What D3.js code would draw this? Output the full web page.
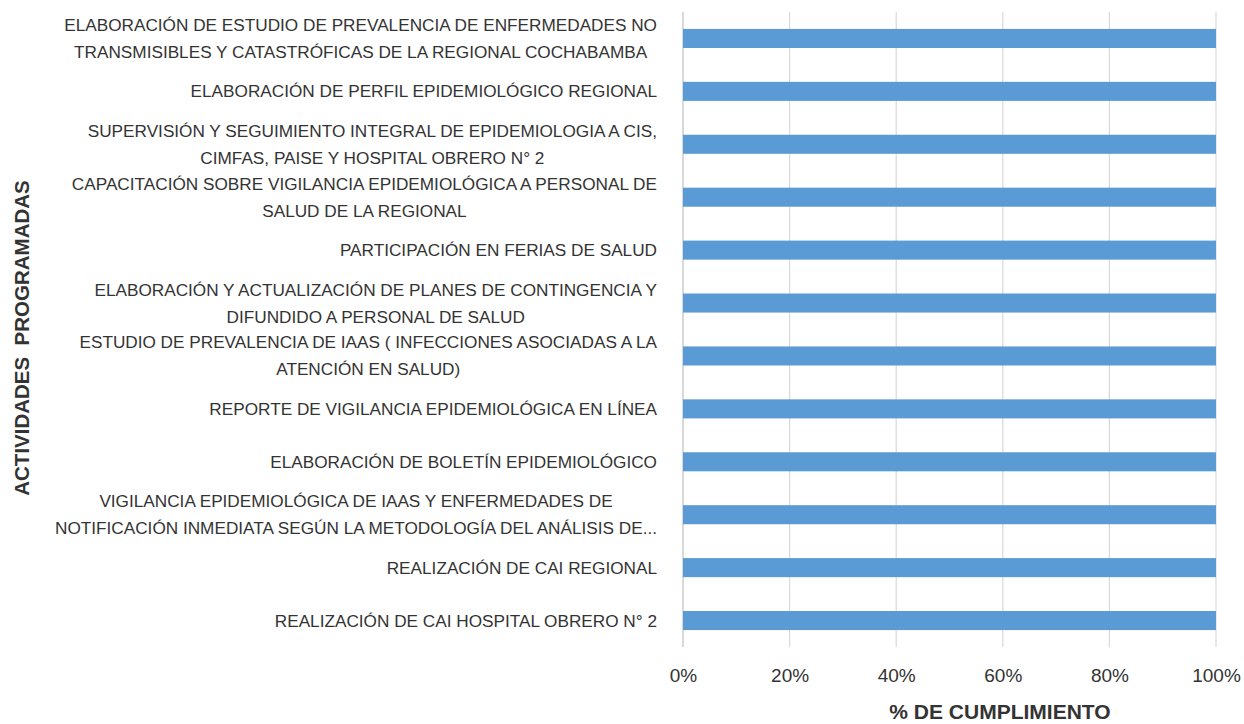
<!DOCTYPE html>
<html>
<head>
<meta charset="utf-8">
<script src="https://cdn.jsdelivr.net/npm/d3@7"></script>
<style>
  body { margin: 0; background: #fff; }
  text { font-family: "Liberation Sans", Arial, sans-serif; fill: #333; }
</style>
</head>
<body>
<svg id="chart"></svg>
<script>
// Activities, top to bottom (each entry = wrapped label lines)
const activities = [
  ["ELABORACIÓN DE ESTUDIO DE PREVALENCIA DE ENFERMEDADES NO", "TRANSMISIBLES Y CATASTRÓFICAS DE LA REGIONAL COCHABAMBA"],
  ["ELABORACIÓN DE PERFIL EPIDEMIOLÓGICO REGIONAL"],
  ["SUPERVISIÓN Y SEGUIMIENTO INTEGRAL DE EPIDEMIOLOGIA A CIS,", "CIMFAS, PAISE Y HOSPITAL OBRERO N° 2"],
  ["CAPACITACIÓN SOBRE VIGILANCIA EPIDEMIOLÓGICA A PERSONAL DE", "SALUD DE LA REGIONAL"],
  ["PARTICIPACIÓN EN FERIAS DE SALUD"],
  ["ELABORACIÓN Y ACTUALIZACIÓN DE PLANES DE CONTINGENCIA Y", "DIFUNDIDO A PERSONAL DE SALUD"],
  ["ESTUDIO DE PREVALENCIA DE IAAS ( INFECCIONES ASOCIADAS A LA", "ATENCIÓN EN SALUD)"],
  ["REPORTE DE VIGILANCIA EPIDEMIOLÓGICA EN LÍNEA"],
  ["ELABORACIÓN DE BOLETÍN EPIDEMIOLÓGICO"],
  ["VIGILANCIA EPIDEMIOLÓGICA DE IAAS Y ENFERMEDADES DE", "NOTIFICACIÓN INMEDIATA SEGÚN LA METODOLOGÍA DEL ANÁLISIS DE..."],
  ["REALIZACIÓN DE CAI REGIONAL"],
  ["REALIZACIÓN DE CAI HOSPITAL OBRERO N° 2"]
];

// % de cumplimiento
const cumplimiento = [1, 1, 1, 1, 1, 1, 1, 1, 1, 1, 1, 1];

const xTicks = [0, 0.2, 0.4, 0.6, 0.8, 1];

const data = activities.map((lines, i) => ({ id: i, lines: lines, value: cumplimiento[i] }));

const width = 1244;
const height = 724;
const margin = { top: 12, right: 28, bottom: 77, left: 683 };

const svg = d3.select("#chart")
  .attr("width", width)
  .attr("height", height);

const xScale = d3.scaleLinear()
  .domain([0, 1])
  .range([margin.left, width - margin.right]);

const yScale = d3.scaleBand()
  .domain(data.map(d => d.id))
  .range([margin.top, height - margin.bottom])
  .paddingInner(0.64)
  .paddingOuter(0.32);

// gridlines
svg.append("g")
  .selectAll("line")
  .data(xTicks)
  .enter()
  .append("line")
  .attr("x1", d => xScale(d))
  .attr("x2", d => xScale(d))
  .attr("y1", margin.top)
  .attr("y2", height - margin.bottom)
  .attr("stroke", d => d === 0 ? "#bfbfbf" : "#d9d9d9")
  .attr("stroke-width", 1.2);

// bars
svg.selectAll(".bar")
  .data(data)
  .enter()
  .append("rect")
  .attr("class", "bar")
  .attr("x", xScale(0))
  .attr("y", d => yScale(d.id))
  .attr("width", d => xScale(d.value) - xScale(0))
  .attr("height", yScale.bandwidth())
  .attr("fill", "#5b9bd5");

// x tick labels
const xAxis = svg.append("g")
  .attr("transform", `translate(0,${height - margin.bottom})`)
  .call(d3.axisBottom(xScale).tickValues(xTicks).tickFormat(d3.format(".0%")).tickSize(0).tickPadding(22));
xAxis.select(".domain").remove();
xAxis.selectAll("text")
  .style("font-size", "19px")
  .attr("fill", "#333");

// category labels: wrapped lines centered within a right-aligned block
const labelRight = margin.left - 26;
const lineHeight = 27;
const labels = svg.append("g");
data.forEach(d => {
  const g = labels.append("g");
  const cy = yScale(d.id) + yScale.bandwidth() / 2;
  const n = d.lines.length;
  const texts = g.selectAll("text")
    .data(d.lines)
    .enter()
    .append("text")
    .attr("y", (l, i) => cy + (i - (n - 1) / 2) * lineHeight)
    .attr("dy", "0.35em")
    .attr("text-anchor", "middle")
    .style("font-size", "17.2px")
    .text(l => l);
  let maxW = 0;
  texts.each(function() { maxW = Math.max(maxW, this.getComputedTextLength()); });
  texts.attr("x", labelRight - maxW / 2);
});

// y axis title
svg.append("text")
  .attr("transform", "translate(29,338) rotate(-90)")
  .attr("text-anchor", "middle")
  .style("font-size", "20.5px")
  .style("font-weight", "bold")
  .style("white-space", "pre")
  .text("ACTIVIDADES  PROGRAMADAS");

// x axis title
svg.append("text")
  .attr("x", 1000)
  .attr("y", 719)
  .attr("text-anchor", "middle")
  .style("font-size", "21px")
  .style("font-weight", "bold")
  .text("% DE CUMPLIMIENTO");
</script>
</body>
</html>
